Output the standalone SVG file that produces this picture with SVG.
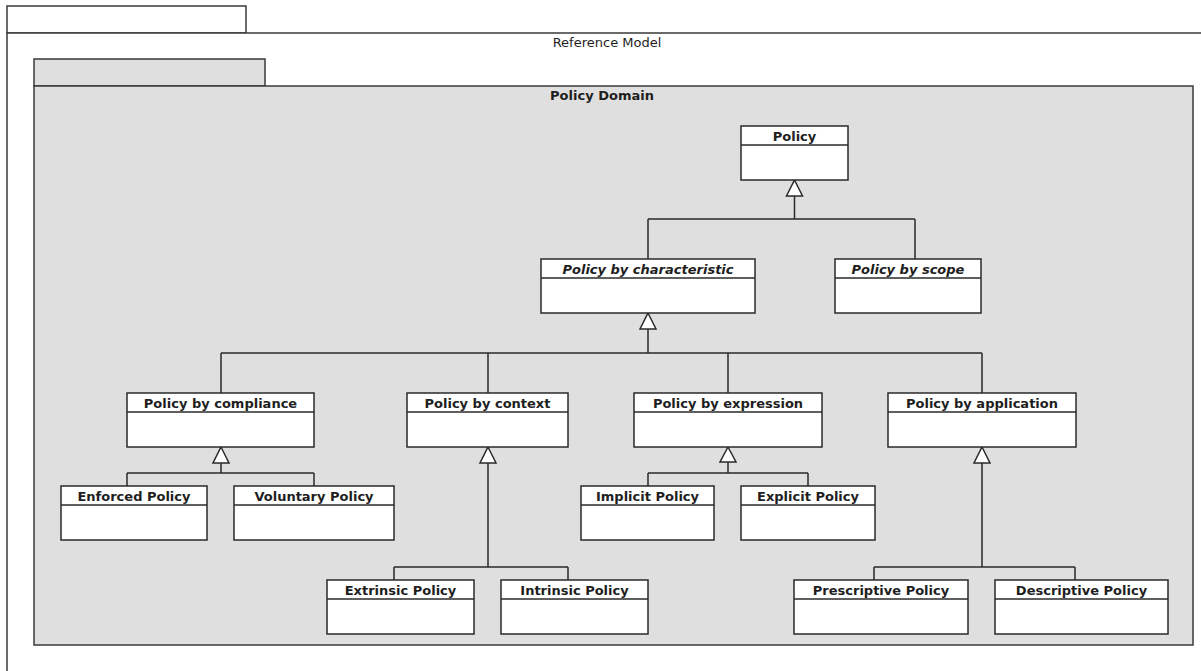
<svg xmlns="http://www.w3.org/2000/svg" width="1201" height="671" viewBox="0 0 1201 671">
<style>
  .frame{fill:#ffffff;stroke:#3a3a3a;stroke-width:1.5}
  .pkg{fill:#dfdfdf;stroke:#3a3a3a;stroke-width:1.5}
  .box{fill:#ffffff;stroke:#2a2a2a;stroke-width:1.5}
  .div{stroke:#2a2a2a;stroke-width:1.5}
  .t{font-family:"DejaVu Sans","Liberation Sans",sans-serif;font-size:13px;font-weight:bold;fill:#1e1e1e;text-anchor:middle}
  .ti{font-style:italic}
  .tr{font-family:"DejaVu Sans","Liberation Sans",sans-serif;font-size:13px;fill:#1e1e1e;text-anchor:middle}
  .c{fill:none;stroke:#2a2a2a;stroke-width:1.5}
  .tri{fill:#ffffff;stroke:#2a2a2a;stroke-width:1.5;stroke-linejoin:miter}
</style>
<rect width="1201" height="671" fill="#ffffff"/>
<g id="reference-model">
  <rect class="frame" x="7" y="6" width="239" height="27"/>
  <rect class="frame" x="7" y="33" width="1210" height="660"/>
  <text class="tr" x="607" y="47">Reference Model</text>
</g>
<g id="policy-domain">
  <rect class="pkg" x="34" y="59" width="231" height="27"/>
  <rect class="pkg" x="34" y="86" width="1159" height="559"/>
  <text class="t" x="602" y="100">Policy Domain</text>
</g>
<g id="connectors">
  <path class="c" d="M794.5,196 V219 M648,219 H915 M648,219 V259 M915,219 V259"/>
  <polygon class="tri" points="794.5,180 802.5,196 786.5,196"/>
  <path class="c" d="M648,329 V353 M221,353 H982 M221,353 V393 M488,353 V393 M728,353 V393 M982,353 V393"/>
  <polygon class="tri" points="648,313 656,329 640,329"/>
  <path class="c" d="M221,463 V473 M127,473 H314 M127,473 V486 M314,473 V486"/>
  <polygon class="tri" points="221,447 229,463 213,463"/>
  <path class="c" d="M728,462 V473 M648,473 H808 M648,473 V486 M808,473 V486"/>
  <polygon class="tri" points="728,447 736,462 720,462"/>
  <path class="c" d="M488,463 V567 M394,567 H568 M394,567 V580 M568,567 V580"/>
  <polygon class="tri" points="488,447 496,463 480,463"/>
  <path class="c" d="M982,463 V567 M874,567 H1075 M874,567 V580 M1075,567 V580"/>
  <polygon class="tri" points="982,447 990,463 974,463"/>
</g>
<g id="policy">
  <rect class="box" x="741" y="126" width="107" height="54"/>
  <line class="div" x1="741" y1="145" x2="848" y2="145"/>
  <text class="t" x="794.5" y="141">Policy</text>
</g>
<g id="policy-by-characteristic">
  <rect class="box" x="541" y="259" width="214" height="54"/>
  <line class="div" x1="541" y1="278" x2="755" y2="278"/>
  <text class="t ti" x="648" y="274">Policy by characteristic</text>
</g>
<g id="policy-by-scope">
  <rect class="box" x="835" y="259" width="146" height="54"/>
  <line class="div" x1="835" y1="278" x2="981" y2="278"/>
  <text class="t ti" x="908" y="274">Policy by scope</text>
</g>
<g id="policy-by-compliance">
  <rect class="box" x="127" y="393" width="187" height="54"/>
  <line class="div" x1="127" y1="412" x2="314" y2="412"/>
  <text class="t" x="220.5" y="408">Policy by compliance</text>
</g>
<g id="policy-by-context">
  <rect class="box" x="407" y="393" width="161" height="54"/>
  <line class="div" x1="407" y1="412" x2="568" y2="412"/>
  <text class="t" x="487.5" y="408">Policy by context</text>
</g>
<g id="policy-by-expression">
  <rect class="box" x="634" y="393" width="188" height="54"/>
  <line class="div" x1="634" y1="412" x2="822" y2="412"/>
  <text class="t" x="728" y="408">Policy by expression</text>
</g>
<g id="policy-by-application">
  <rect class="box" x="888" y="393" width="188" height="54"/>
  <line class="div" x1="888" y1="412" x2="1076" y2="412"/>
  <text class="t" x="982" y="408">Policy by application</text>
</g>
<g id="enforced-policy">
  <rect class="box" x="61" y="486" width="146" height="54"/>
  <line class="div" x1="61" y1="505" x2="207" y2="505"/>
  <text class="t" x="134" y="501">Enforced Policy</text>
</g>
<g id="voluntary-policy">
  <rect class="box" x="234" y="486" width="160" height="54"/>
  <line class="div" x1="234" y1="505" x2="394" y2="505"/>
  <text class="t" x="314" y="501">Voluntary Policy</text>
</g>
<g id="implicit-policy">
  <rect class="box" x="581" y="486" width="133" height="54"/>
  <line class="div" x1="581" y1="505" x2="714" y2="505"/>
  <text class="t" x="647.5" y="501">Implicit Policy</text>
</g>
<g id="explicit-policy">
  <rect class="box" x="741" y="486" width="134" height="54"/>
  <line class="div" x1="741" y1="505" x2="875" y2="505"/>
  <text class="t" x="808" y="501">Explicit Policy</text>
</g>
<g id="extrinsic-policy">
  <rect class="box" x="327" y="580" width="147" height="54"/>
  <line class="div" x1="327" y1="599" x2="474" y2="599"/>
  <text class="t" x="400.5" y="595">Extrinsic Policy</text>
</g>
<g id="intrinsic-policy">
  <rect class="box" x="501" y="580" width="147" height="54"/>
  <line class="div" x1="501" y1="599" x2="648" y2="599"/>
  <text class="t" x="574.5" y="595">Intrinsic Policy</text>
</g>
<g id="prescriptive-policy">
  <rect class="box" x="794" y="580" width="174" height="54"/>
  <line class="div" x1="794" y1="599" x2="968" y2="599"/>
  <text class="t" x="881" y="595">Prescriptive Policy</text>
</g>
<g id="descriptive-policy">
  <rect class="box" x="995" y="580" width="173" height="54"/>
  <line class="div" x1="995" y1="599" x2="1168" y2="599"/>
  <text class="t" x="1081.5" y="595">Descriptive Policy</text>
</g>
</svg>
